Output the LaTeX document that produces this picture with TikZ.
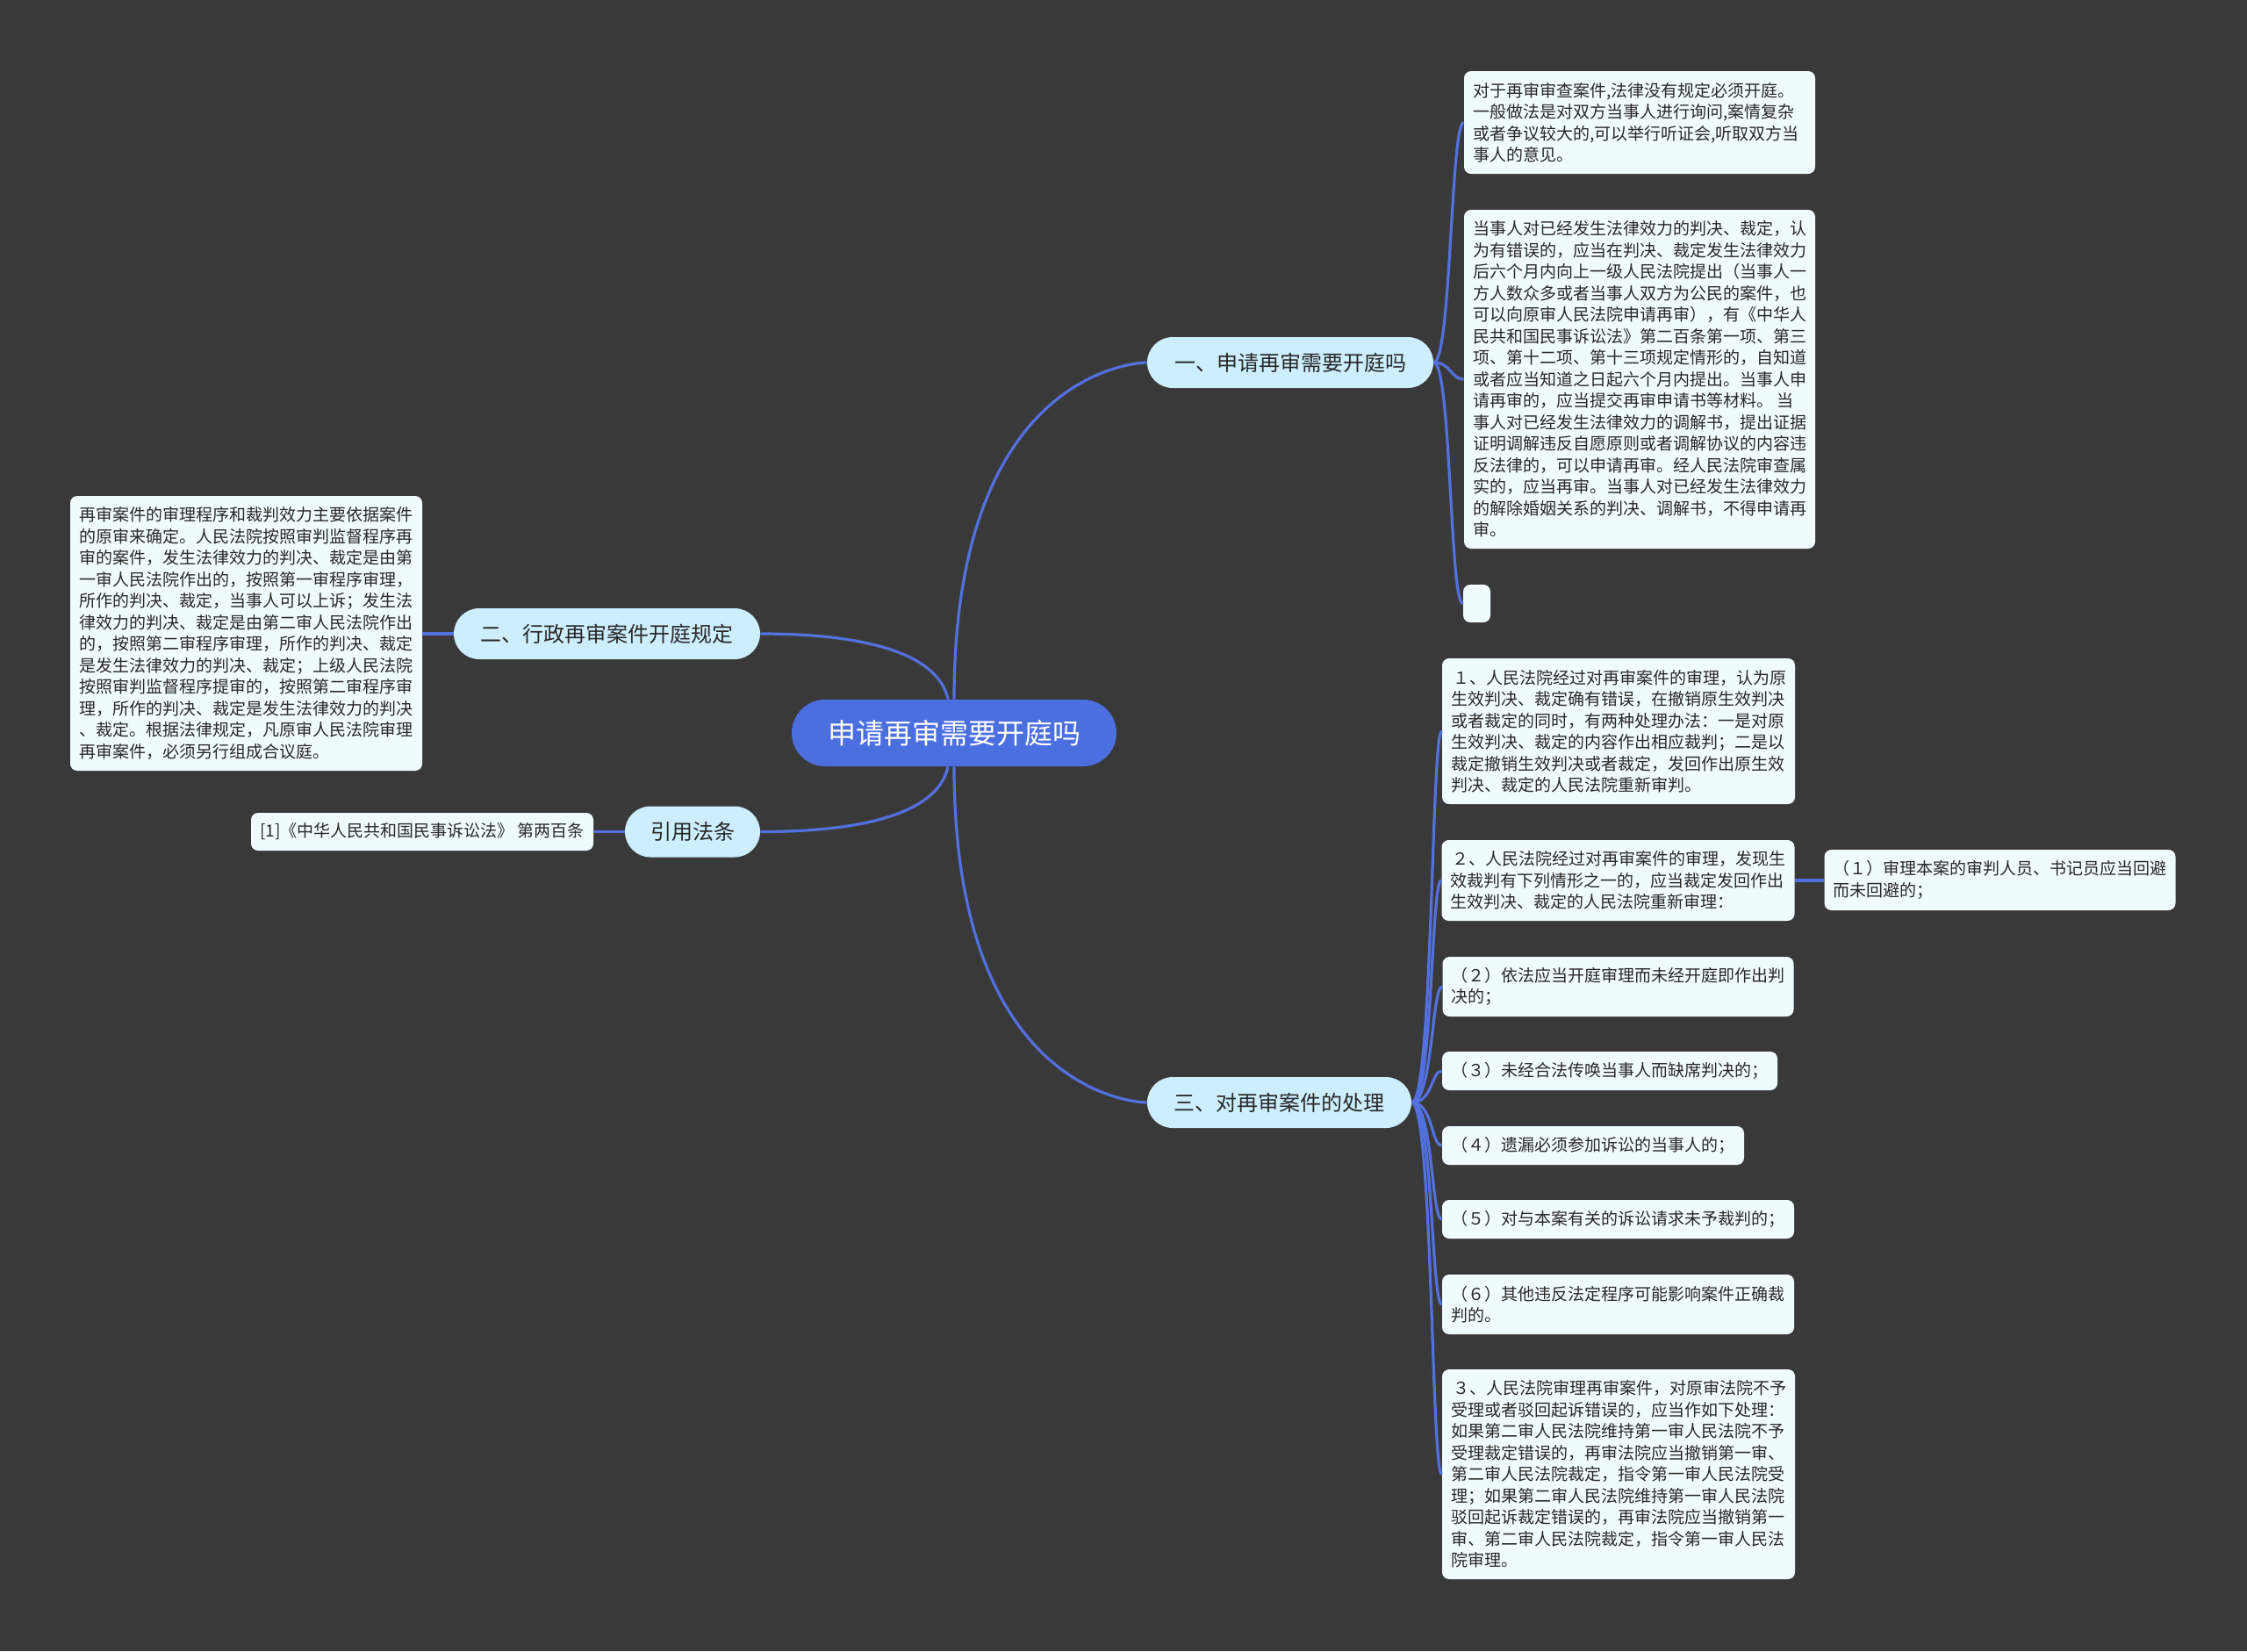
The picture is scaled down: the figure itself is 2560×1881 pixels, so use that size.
\documentclass[tikz,border=0pt]{standalone}
\usepackage{fontspec}
\setmainfont{Noto Sans CJK SC}
\definecolor{bgc}{RGB}{58,57,58}
\definecolor{rootfill}{RGB}{76,111,224}
\definecolor{linecol}{RGB}{82,113,222}
\definecolor{lonefill}{RGB}{204,238,253}
\definecolor{leaffill}{RGB}{240,251,255}
\definecolor{txt}{RGB}{40,40,40}
\begin{document}
\begin{tikzpicture}[x=0.5pt,y=-0.5pt,
  leaf/.style={fill=leaffill, rounded corners=4pt, inner xsep=5pt, inner ysep=4pt, align=left, text=txt, font=\fontsize{9.5}{12.25}\selectfont, anchor=center},
  lone/.style={fill=lonefill, rounded corners=14.5pt, minimum height=29pt, text=txt, font=\fontsize{12}{14}\selectfont, inner sep=0pt},
  root/.style={fill=rootfill, rounded corners=19pt, minimum height=38pt, minimum width=185pt, text=white, font=\fontsize{16}{19}\selectfont, inner sep=0pt},
  conn/.style={draw=linecol, line width=1.6pt}]
\fill[bgc] (0,0) rectangle (2560,1881);
\useasboundingbox (0,0) rectangle (2560,1881);

% root and main branches
\node[root] (c) at (1087,835) {申请再审需要开庭吗};
\node[lone, minimum width=163pt] (one) at (1470,413) {一、申请再审需要开庭吗};
\node[lone, minimum width=174.5pt] (two) at (691.5,722) {二、行政再审案件开庭规定};
\node[lone, minimum width=77pt] (ref) at (789,947.5) {引用法条};
\node[lone, minimum width=150.5pt] (three) at (1457.5,1256) {三、对再审案件的处理};

% branch one
\node[leaf, text width=190pt, minimum height=58.5pt] (A) at (1868,139.5) {对于再审审查案件,法律没有规定必须开庭。\\一般做法是对双方当事人进行询问,案情复杂\\或者争议较大的,可以举行听证会,听取双方当\\事人的意见。};
\node[leaf, minimum width=200pt, minimum height=193pt] (B) at (1868,432) {当事人对已经发生法律效力的判决、裁定，认\\为有错误的，应当在判决、裁定发生法律效力\\后六个月内向上一级人民法院提出（当事人一\\方人数众多或者当事人双方为公民的案件，也\\可以向原审人民法院申请再审），有《中华人\\民共和国民事诉讼法》第二百条第一项、第三\\项、第十二项、第十三项规定情形的，自知道\\或者应当知道之日起六个月内提出。当事人申\\请再审的，应当提交再审申请书等材料。 当\\事人对已经发生法律效力的调解书，提出证据\\证明调解违反自愿原则或者调解协议的内容违\\反法律的，可以申请再审。经人民法院审查属\\实的，应当再审。当事人对已经发生法律效力\\的解除婚姻关系的判决、调解书，不得申请再\\审。};
\node[leaf, minimum width=15.5pt, minimum height=21.5pt, inner sep=0pt] (E) at (1682.5,687.5) {};

% branch two
\node[leaf, minimum width=200.5pt, minimum height=156.5pt] (L) at (280.5,721.5) {再审案件的审理程序和裁判效力主要依据案件\\的原审来确定。人民法院按照审判监督程序再\\审的案件，发生法律效力的判决、裁定是由第\\一审人民法院作出的，按照第一审程序审理，\\所作的判决、裁定，当事人可以上诉；发生法\\律效力的判决、裁定是由第二审人民法院作出\\的，按照第二审程序审理，所作的判决、裁定\\是发生法律效力的判决、裁定；上级人民法院\\按照审判监督程序提审的，按照第二审程序审\\理，所作的判决、裁定是发生法律效力的判决\\、裁定。根据法律规定，凡原审人民法院审理\\再审案件，必须另行组成合议庭。};

% reference
\node[leaf, minimum width=195pt, minimum height=21.5pt] (R) at (481,947.5) {[1]《中华人民共和国民事诉讼法》 第两百条};

% branch three
\node[leaf, minimum width=200pt, minimum height=83pt] (t1) at (1844,833) {\hspace*{1pt}１、人民法院经过对再审案件的审理，认为原\\生效判决、裁定确有错误，在撤销原生效判决\\或者裁定的同时，有两种处理办法：一是对原\\生效判决、裁定的内容作出相应裁判；二是以\\裁定撤销生效判决或者裁定，发回作出原生效\\判决、裁定的人民法院重新审判。};
\node[leaf, minimum width=199.5pt, minimum height=46pt] (t2) at (1843.5,1003) {\hspace*{1pt}２、人民法院经过对再审案件的审理，发现生\\效裁判有下列情形之一的，应当裁定发回作出\\生效判决、裁定的人民法院重新审理：};
\node[leaf, minimum width=199.5pt, minimum height=34.5pt] (p1) at (2278.5,1002.5) {（１）审理本案的审判人员、书记员应当回避\\而未回避的；};
\node[leaf, minimum width=199.5pt, minimum height=34pt] (p2) at (1843.5,1124) {（２）依法应当开庭审理而未经开庭即作出判\\决的；};
\node[leaf, minimum width=191pt, minimum height=22pt] (p3) at (1834,1220) {（３）未经合法传唤当事人而缺席判决的；};
\node[leaf, minimum width=172pt, minimum height=22pt] (p4) at (1815,1305) {（４）遗漏必须参加诉讼的当事人的；};
\node[leaf, minimum width=200.5pt, minimum height=22pt] (p5) at (1843.5,1389) {（５）对与本案有关的诉讼请求未予裁判的；};
\node[leaf, minimum width=200.5pt, minimum height=34pt] (p6) at (1843.5,1486) {（６）其他违反法定程序可能影响案件正确裁\\判的。};
\node[leaf, minimum width=200pt, minimum height=119.5pt] (t3) at (1844,1679.5) {\hspace*{1pt}３、人民法院审理再审案件，对原审法院不予\\受理或者驳回起诉错误的，应当作如下处理：\\如果第二审人民法院维持第一审人民法院不予\\受理裁定错误的，再审法院应当撤销第一审、\\第二审人民法院裁定，指令第一审人民法院受\\理；如果第二审人民法院维持第一审人民法院\\驳回起诉裁定错误的，再审法院应当撤销第一\\审、第二审人民法院裁定，指令第一审人民法\\院审理。};

% connectors from root
\draw[conn] (c.north) .. controls (c.north |- one.west) and (one.west) .. (one.west);
\draw[conn] (c.south) .. controls (c.south |- three.west) and (three.west) .. (three.west);
\coordinate (cn) at ([xshift=-3.5pt]c.north);
\coordinate (cs) at ([xshift=-3.5pt]c.south);
\draw[conn] (two.east) .. controls +(134,0) and +(-10,-47) .. (cn);
\draw[conn] (ref.east) .. controls +(134,0) and +(-10,47) .. (cs);

% straight links
\draw[conn] (two.west) -- (L.east |- two.west);
\draw[conn] (ref.west) -- (R.east |- ref.west);
\draw[conn] (t2.east) -- (p1.west |- t2.east);

% branch one children
\foreach \n in {A,B,E}
  \draw[conn] (one.east) .. controls +(20,0) and +(-15,0) .. (\n.west);

% branch three children
\foreach \n in {t1,t2,p2,p3,p4,p5,p6,t3}
  \draw[conn] (three.east) .. controls +(24,0) and +(-12,0) .. (\n.west);
\end{tikzpicture}
\end{document}
